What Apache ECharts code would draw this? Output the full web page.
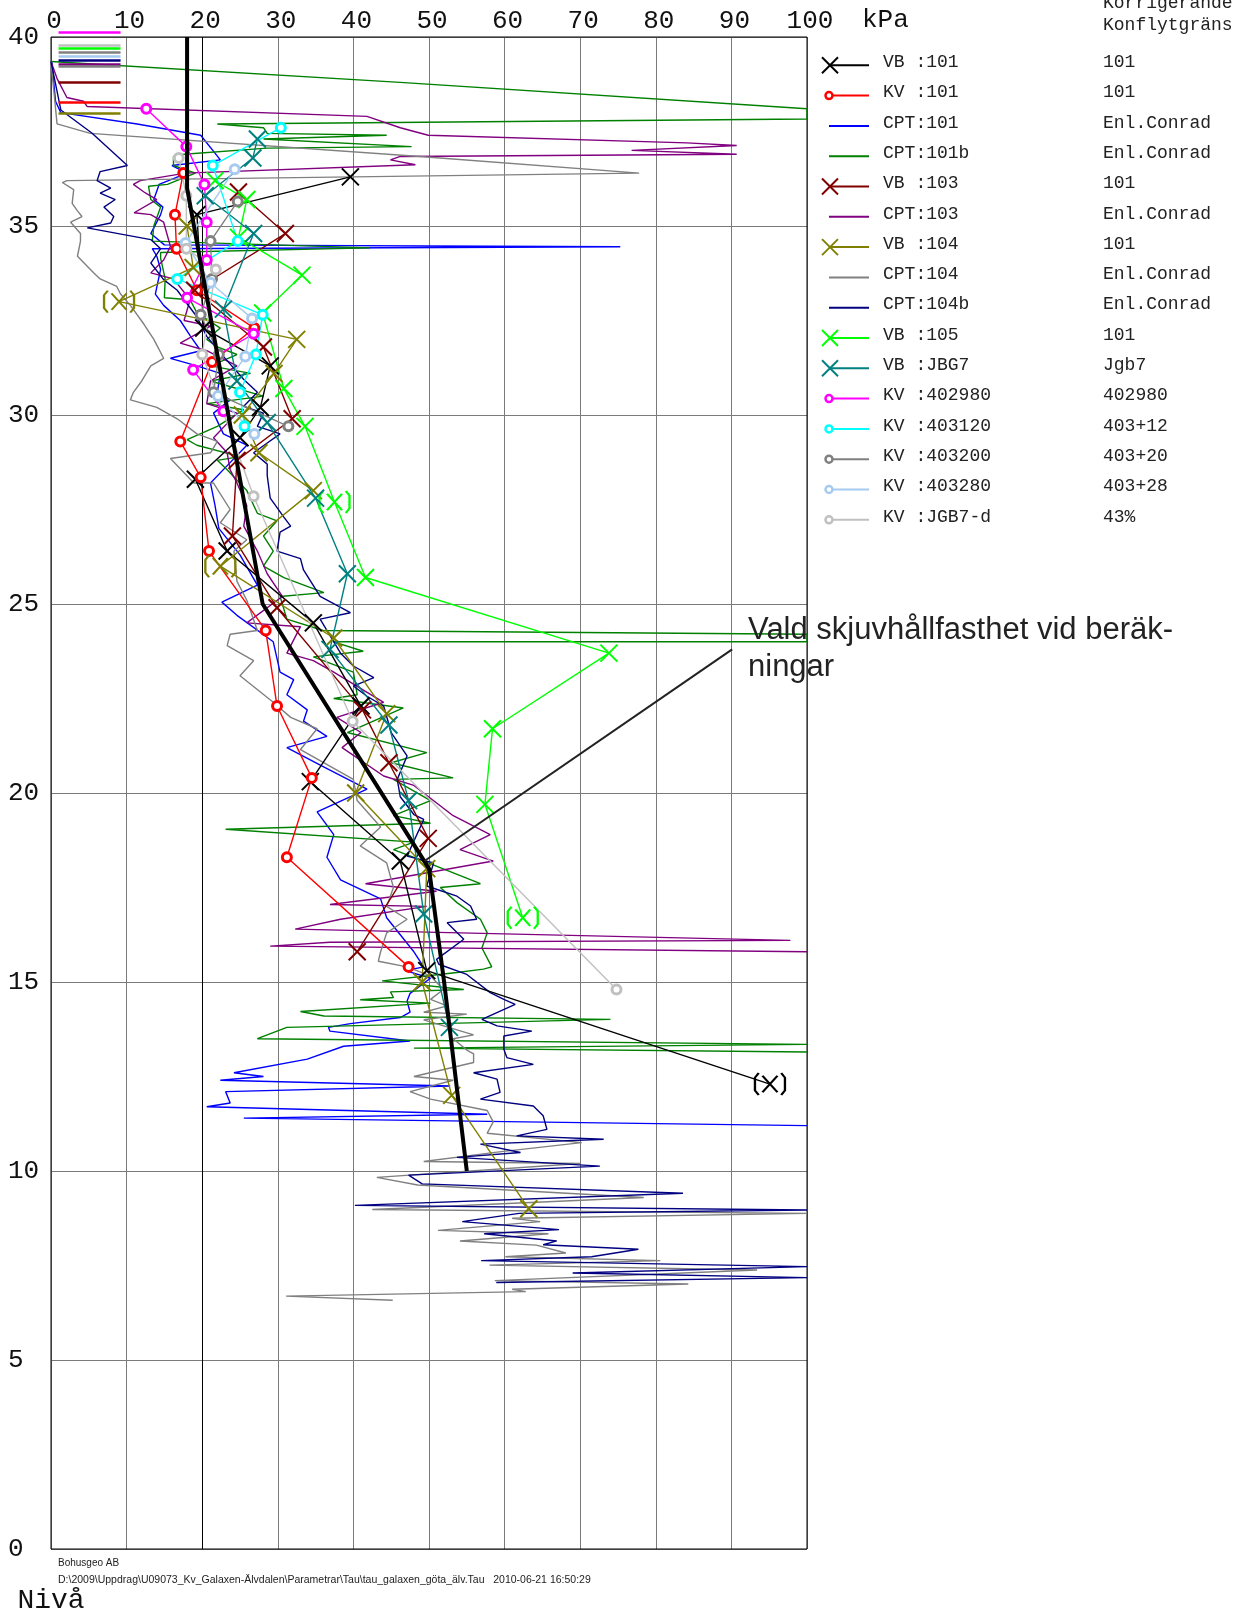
<!DOCTYPE html>
<html>
<head>
<meta charset="utf-8">
<script src="https://cdn.jsdelivr.net/npm/echarts@6/dist/echarts.min.js"></script>
<style>
html,body{margin:0;padding:0;background:#fff;}
#chart{width:1240px;height:1615px;}
</style>
</head>
<body>
<div id="chart"></div>
<script>
// ---------- axis ticks ----------
const xTicks = [0,10,20,30,40,50,60,70,80,90,100];
const yTicks = [0,5,10,15,20,25,30,35,40];
const xUnit = 'kPa';

// ---------- legend names / "Korrigerande Konflytgräns" ----------
const seriesNames = ['VB :101','KV :101','CPT:101','CPT:101b','VB :103','CPT:103','VB :104','CPT:104','CPT:104b','VB :105','VB :JBG7','KV :402980','KV :403120','KV :403200','KV :403280','KV :JGB7-d'];
const korrValues = ['101','101','Enl.Conrad','Enl.Conrad','101','Enl.Conrad','101','Enl.Conrad','Enl.Conrad','101','Jgb7','402980','403+12','403+20','403+28','43%'];

// ---------- data: [shear strength kPa, level m, (1 = value in brackets)] ----------
const vb101 = [[39.6,36.3],[19.3,35.3],[20.2,32.3],[29.0,31.3],[27.7,30.2],[25.0,29.4],[19.1,28.3],[23.3,26.4],[34.7,24.5],[41.0,22.3],[34.3,20.3],[46.2,18.2],[49.7,15.3],[95.1,12.3,1]];
const kv101 = [[17.5,36.4],[16.4,35.3],[16.6,34.4],[19.3,33.3],[26.9,32.3],[21.3,31.4],[17.1,29.3],[19.8,28.35],[20.9,26.4],[28.4,24.3],[29.9,22.3],[34.5,20.4],[31.2,18.3],[47.3,15.4]];
const cpt101 = [[0.1,39.35],[0.6,38.3],[1.3,38.0],[11.4,37.7],[19.8,37.4],[22.4,36.75],[16.0,36.6],[18.0,36.4],[14.3,36.1],[13.6,35.7],[14.8,35.5],[14.5,35.3],[13.2,34.8],[15.0,34.5],[75.3,34.45],[13.4,34.4],[14.0,34.2],[14.5,33.85],[13.8,33.2],[14.9,32.9],[17.1,32.5],[18.4,32.1],[19.8,31.7],[15.8,31.5],[19.3,31.3],[22.4,31.1],[22.0,30.6],[23.7,30.4],[21.5,30.05],[22.8,29.5],[25.9,29.2],[23.5,28.7],[21.1,28.2],[21.7,27.6],[22.2,27.0],[25.0,26.3],[27.3,25.5],[22.6,25.05],[24.6,24.7],[29.4,24.0],[30.3,23.2],[32.1,23.0],[31.2,22.6],[33.9,22.2],[33.4,21.9],[36.5,21.5],[31.2,21.2],[36.0,20.7],[41.8,20.1],[35.2,19.5],[37.4,18.9],[36.5,18.3],[38.3,17.7],[43.6,17.2],[44.4,16.7],[48.0,15.8],[49.3,15.4],[46.9,15.3],[50.2,15.1],[47.5,14.7],[47.1,14.5],[47.5,14.2],[46.2,14.06],[39.6,13.9],[36.7,13.8],[36.9,13.7],[47.5,13.44],[38.7,13.3],[33.9,12.96],[24.2,12.6],[28.1,12.5],[22.4,12.4],[52.8,12.25],[23.1,12.1],[23.7,11.8],[20.6,11.7],[57.7,11.5],[25.5,11.4],[100,11.2]];
const cpt101b = [[0,39.35],[46.2,38.8],[100,38.1],[100,37.83],[22.0,37.7],[28.1,37.6],[28.6,37.45],[44.4,37.4],[28.1,37.3],[47.7,37.1],[28.6,37.06],[17.6,36.9],[16.2,36.84],[16.2,36.6],[19.1,36.4],[15.4,36.1],[12.9,36.05],[13.2,35.7],[14.5,35.5],[13.6,35.0],[13.4,34.6],[42.2,34.42],[14.5,34.3],[14.5,34.15],[15.1,33.6],[15.0,33.1],[18.4,33.05],[19.3,32.7],[22.4,32.3],[20.6,32.0],[22.0,31.8],[24.6,31.6],[21.1,31.3],[26.4,31.1],[21.1,30.9],[28.1,30.5],[20.6,30.3],[25.5,30.14],[22.0,29.7],[18.0,29.35],[19.3,29.2],[25.0,28.9],[22.0,28.8],[23.3,28.55],[25.9,28.0],[27.3,27.4],[29.9,27.2],[28.1,26.8],[29.4,26.4],[28.1,26.0],[30.8,25.7],[36.1,25.3],[30.3,25.2],[31.2,24.6],[36.0,24.3],[100,24.2],[100,24.0],[37.4,24.0],[41.3,23.75],[34.7,23.6],[40.0,23.2],[40.5,22.6],[37.4,22.5],[46.6,22.25],[39.2,21.6],[49.7,21.07],[45.0,20.8],[53.2,20.4],[45.3,20.36],[50.2,19.8],[45.3,19.4],[50.2,19.2],[23.1,19.04],[48.0,18.7],[45.3,18.5],[49.3,18.2],[56.8,17.6],[51.5,17.5],[53.7,17.1],[56.8,16.66],[57.7,16.3],[57.0,15.9],[58.3,15.4],[57.2,15.34],[53.7,15.25],[43.8,15.03],[54.6,14.8],[44.9,14.74],[45.3,14.59],[40.9,14.53],[50.2,14.44],[33.0,14.22],[36.1,14.1],[74.0,14.01],[31.2,13.8],[27.3,13.5],[100,13.35],[100,13.3],[48.0,13.25],[100,13.15]];
const vb103 = [[24.8,35.9],[31.0,34.8],[19.0,33.3],[28.1,31.8],[31.9,29.9],[24.6,28.8],[24.0,26.8],[29.9,24.9],[41.2,22.2],[44.7,20.8],[49.9,18.8],[40.5,15.8]];
const cpt103 = [[0,39.35],[0.8,38.9],[2.1,38.4],[4.3,38.3],[4.8,38.16],[41.8,37.9],[46.2,37.6],[49.9,37.4],[84.1,37.2],[90.7,37.13],[76.8,37.0],[90.7,36.9],[46.2,36.84],[44.9,36.75],[48.2,36.62],[17.8,36.4],[11.8,36.2],[10.9,36.1],[12.3,35.9],[12.7,35.85],[14.0,35.7],[11.0,35.35],[13.2,35.3],[14.9,35.1],[15.8,34.46],[14.9,34.1],[13.2,33.76],[16.2,33.6],[18.4,33.05],[17.6,32.5],[21.1,32.35],[17.1,31.9],[20.6,31.7],[24.6,31.3],[21.1,30.9],[20.6,30.3],[24.6,30.05],[21.5,29.4],[23.3,29.0],[23.7,28.55],[24.6,28.2],[25.9,27.6],[25.5,27.06],[27.3,26.4],[28.6,25.8],[30.6,25.2],[25.9,24.5],[33.0,24.4],[31.2,23.7],[34.7,23.5],[37.4,23.2],[44.0,22.4],[37.8,22.0],[41.0,21.6],[38.5,21.2],[44.0,20.45],[48.0,20.2],[53.2,19.4],[58.1,18.9],[54.1,18.5],[58.5,18.2],[41.6,17.6],[51.0,17.4],[36.9,17.05],[49.7,17.0],[38.3,16.66],[32.3,16.4],[97.8,16.1],[36.9,16.05],[29.0,15.95],[100,15.8]];
const vb104 = [[18.0,35.0],[18.8,33.9],[9.0,33.0,1],[32.5,32.0],[29.5,31.1],[25.3,30.0],[27.5,29.0],[34.7,28.0],[22.4,26.0,1],[37.4,24.1],[44.4,22.1],[40.3,20.0],[49.7,18.0],[49.1,15.0],[53.0,12.0],[63.2,9.0]];
const cpt104 = [[0,39.35],[0.8,37.7],[5.2,37.45],[48.8,36.84],[77.8,36.4],[2.1,36.2],[1.5,36.15],[3.0,35.96],[2.8,35.6],[3.5,35.4],[4.1,35.25],[2.6,35.1],[3.9,34.8],[3.9,34.6],[3.5,34.2],[5.7,33.75],[6.5,33.6],[8.7,33.4],[9.2,33.2],[10.5,32.9],[12.3,32.4],[13.6,32.0],[14.9,31.5],[13.2,31.3],[12.0,30.9],[10.9,30.6],[10.5,30.4],[14.0,30.2],[16.7,29.9],[19.3,29.5],[22.0,29.3],[21.1,29.0],[15.8,28.85],[18.9,28.2],[21.5,28.2],[23.7,27.5],[22.4,27.15],[25.9,26.7],[24.2,26.4],[24.6,25.6],[25.9,25.1],[27.3,24.3],[23.7,24.2],[23.3,23.9],[26.8,23.5],[25.0,23.1],[29.4,22.4],[31.7,22.0],[35.2,21.7],[33.0,21.15],[40.0,20.36],[40.5,19.8],[43.6,19.1],[40.9,18.6],[44.4,18.15],[45.3,17.5],[44.4,17.0],[47.1,16.66],[44.4,16.3],[43.6,15.8],[43.3,15.55],[47.1,15.4],[50.2,15.16],[51.9,14.8],[50.2,14.54],[52.4,14.37],[49.3,14.2],[55.0,14.15],[49.3,14.0],[55.9,13.6],[53.2,13.5],[55.0,13.2],[55.9,13.1],[55.9,12.87],[48.0,12.5],[53.2,12.4],[47.5,12.1],[50.2,11.9],[57.7,11.6],[58.5,11.3],[57.7,11.0],[70.2,10.75],[59.0,10.5],[49.3,10.25],[70.0,10.2],[43.1,9.83],[48.5,9.63],[78.4,9.3],[42.5,8.98],[100,8.88],[61.0,8.75],[64.7,8.66],[51.2,8.43],[65.8,8.34],[54.1,8.15],[64.2,8.04],[68.1,7.83],[60.1,7.73],[80.6,7.63],[58.0,7.51],[93.4,7.38],[58.7,7.1],[84.3,7.01],[61.0,6.87],[62.8,6.81],[31.1,6.69],[45.2,6.58]];
const cpt104b = [[0,39.35],[1.3,38.07],[5.4,37.46],[10.1,36.6],[6.5,36.44],[6.1,36.2],[7.9,36.0],[6.5,35.87],[8.5,35.7],[7.0,35.5],[8.3,35.25],[7.9,35.08],[4.8,34.95],[13.2,34.64],[14.5,34.4],[13.2,34.02],[14.9,33.58],[16.7,33.3],[17.6,33.05],[19.3,32.6],[20.6,32.08],[22.8,31.55],[25.5,30.94],[27.3,30.6],[25.5,30.23],[28.1,30.05],[27.3,29.7],[30.3,29.5],[28.6,29.26],[26.8,29.0],[28.6,28.7],[28.6,28.4],[29.0,27.8],[30.8,27.3],[31.7,27.06],[30.3,26.9],[29.9,26.4],[33.0,26.2],[33.4,25.9],[35.6,25.2],[39.6,24.77],[35.6,24.6],[38.3,23.7],[40.0,23.36],[42.7,23.05],[40.0,22.83],[41.8,22.56],[44.0,22.3],[45.0,21.6],[47.1,20.98],[45.8,20.36],[46.2,19.9],[48.0,19.43],[49.3,19.3],[47.1,18.33],[50.6,18.15],[49.7,17.54],[53.7,17.27],[55.5,17.01],[56.3,16.66],[52.4,16.57],[54.6,16.13],[51.0,15.6],[51.3,15.47],[55.0,15.2],[58.1,14.72],[59.9,14.54],[61.4,14.41],[57.0,14.01],[59.0,13.84],[63.6,13.7],[59.9,13.57],[59.9,13.22],[60.3,13.0],[63.8,12.82],[55.9,12.6],[59.0,12.43],[59.4,12.08],[56.8,11.9],[63.8,11.72],[65.1,11.46],[65.6,11.1],[61.6,10.93],[73.1,10.84],[56.8,10.71],[62.1,10.49],[53.7,10.36],[72.6,10.13],[47.3,9.89],[49.1,9.66],[83.6,9.41],[40.2,9.09],[100,8.97],[61.9,8.88],[54.4,8.66],[67.2,8.45],[57.3,8.34],[66.9,8.15],[65.1,8.05],[77.7,7.93],[71.5,7.73],[56.9,7.63],[100,7.47],[69.0,7.3],[100,7.18],[58.9,7.05]];
const vb105 = [[21.7,36.2],[25.9,35.7],[24.8,34.7],[33.2,33.7],[28.0,32.7],[30.8,30.7],[33.6,29.7],[37.5,27.7,1],[41.6,25.7],[73.8,23.7],[58.4,21.7],[57.4,19.7],[62.4,16.7,1]];
const vbJbg7 = [[27.3,37.3],[26.7,36.8],[20.4,35.8],[26.8,34.8],[22.8,32.8],[24.6,30.9],[28.6,29.8],[35.0,27.8],[39.2,25.8],[36.9,23.8],[44.7,21.8],[47.3,19.8],[49.3,16.8],[52.7,13.8]];
const kv402980 = [[12.6,38.1],[17.9,37.1],[20.3,36.1],[20.6,35.1],[20.6,34.1],[18.0,33.1],[26.8,32.15],[18.8,31.2],[22.8,30.1]];
const kv403120 = [[30.4,37.6],[21.4,36.6],[24.7,34.6],[16.7,33.6],[28.0,32.65],[27.1,31.6],[25.0,30.6],[25.6,29.7]];
const kv403200 = [[24.7,35.65],[21.1,34.6],[21.3,33.6],[19.8,32.65],[22.2,31.6],[21.5,30.6],[31.4,29.7]];
const kv403280 = [[24.3,36.5],[17.8,34.55],[21.1,33.5],[26.6,32.55],[25.7,31.55],[22.1,30.5],[26.9,29.5]];
const kvJgb7d = [[16.9,36.8],[17.9,35.8],[17.9,34.4],[21.8,33.85],[20.0,31.6],[26.8,27.85],[39.9,21.9],[74.8,14.8]];

// chosen shear strength ("Vald skjuvhållfasthet")
const valdLine = [[18,40],[18,36],[28,25],[50,18],[52,15],[55,10]];
// ground level markers per sounding: [series, level]
const levelMarks = [['KV :402980',40.13],['KV :JGB7-d',39.79],['VB :105',39.69],['KV :403200',39.60],['KV :403280',39.50],['CPT:104b',39.39],['CPT:103',39.29],['CPT:104',39.22],['VB :103',38.80],['KV :101',38.28],['VB :104',37.99]];
const levelMarkRange = [1, 9.2];
// leader from annotation to the chosen line
const leader = [[49.4,18.2],[90.1,23.8]];
const annotationText = ['Vald skjuvhållfasthet vid beräk-','ningar'];

// ---------- styles ----------
const colors = {
  'VB :101':'#000000','KV :101':'#ff0000','CPT:101':'#0000ff','CPT:101b':'#008000',
  'VB :103':'#800000','CPT:103':'#800080','VB :104':'#808000','CPT:104':'#808080',
  'CPT:104b':'#000080','VB :105':'#00ff00','VB :JBG7':'#008080','KV :402980':'#ff00ff',
  'KV :403120':'#00ffff','KV :403200':'#808080','KV :403280':'#a6caf0','KV :JGB7-d':'#c0c0c0'
};
const dataByName = {
  'VB :101':vb101,'KV :101':kv101,'CPT:101':cpt101,'CPT:101b':cpt101b,'VB :103':vb103,'CPT:103':cpt103,
  'VB :104':vb104,'CPT:104':cpt104,'CPT:104b':cpt104b,'VB :105':vb105,'VB :JBG7':vbJbg7,
  'KV :402980':kv402980,'KV :403120':kv403120,'KV :403200':kv403200,'KV :403280':kv403280,'KV :JGB7-d':kvJgb7d
};
const XSYM = 'path://M0,0L20,20M20,0L0,20';
const PSYM = 'path://M6,0L2,5L2,19L6,24M30,0L34,5L34,19L30,24M10,3L26,21M26,3L10,21';
const MONO = 'Liberation Mono';

function kind(n){ return n.slice(0,2); }

const series = [];
seriesNames.forEach(function(n){
  if (kind(n) !== 'CP') return;
  series.push({
    name:n, type:'line', data:dataByName[n], symbol:'none', z:2,
    lineStyle:{color:colors[n], width:1.4}, itemStyle:{color:colors[n]},
    silent:true, clip:true
  });
});
series.push({
  name:'Vald skjuvhållfasthet', type:'line', data:valdLine, symbol:'none', z:5,
  lineStyle:{color:'#000', width:4}, silent:true
});
seriesNames.forEach(function(n){
  const k = kind(n);
  if (k === 'CP') return;
  const c = colors[n];
  let data, common;
  if (k === 'VB') {
    data = dataByName[n].map(function(p){
      return p[2] ? {value:[p[0],p[1]], symbol:PSYM, symbolSize:[30,22]} : {value:[p[0],p[1]]};
    });
    common = {symbol:XSYM, symbolSize:17, itemStyle:{color:'rgba(0,0,0,0)', borderColor:c, borderWidth:2}};
  } else {
    data = dataByName[n].map(function(p){ return [p[0],p[1]]; });
    common = {symbol:'circle', symbolSize:9, itemStyle:{color:'#ffffff', borderColor:c, borderWidth:3}};
  }
  series.push(Object.assign({
    name:n, type:'line', data:data, z:4, showSymbol:true, showAllSymbol:true,
    lineStyle:{color:c, width:1.4}, silent:true, clip:false
  }, common));
});
series.push({
  type:'lines', coordinateSystem:'cartesian2d', z:3, silent:true, clip:false,
  data: levelMarks.map(function(m){
    return {coords:[[levelMarkRange[0],m[1]],[levelMarkRange[1],m[1]]], lineStyle:{color:colors[m[0]], width:2.5, opacity:1}};
  })
});
series.push({
  type:'lines', coordinateSystem:'cartesian2d', z:6, silent:true, clip:false,
  data:[{coords:leader, lineStyle:{color:'#222', width:2, opacity:1}}]
});

// ---------- legend drawn as graphics ----------
const graphics = [];
const rowTop = 62.8, rowStep = 30.3;
const LFONT = '18px "'+MONO+'"';
graphics.push({type:'text', left:1103, top:-6, style:{text:'Korrigerande', font:LFONT, fill:'#222'}});
graphics.push({type:'text', left:1103, top:16, style:{text:'Konflytgräns', font:LFONT, fill:'#222'}});
seriesNames.forEach(function(n,i){
  const c = colors[n], ty = rowTop + i*rowStep, ly = ty + 2.5, k = kind(n);
  graphics.push({type:'line', shape:{x1:k==='CP'?829:830, y1:ly, x2:869, y2:ly}, style:{stroke:c, lineWidth:2}});
  if (k === 'VB') {
    graphics.push({type:'line', shape:{x1:822, y1:ly-8, x2:838, y2:ly+8}, style:{stroke:c, lineWidth:2}});
    graphics.push({type:'line', shape:{x1:838, y1:ly-8, x2:822, y2:ly+8}, style:{stroke:c, lineWidth:2}});
  } else if (k === 'KV') {
    graphics.push({type:'circle', shape:{cx:829, cy:ly, r:3.5}, style:{fill:'#fff', stroke:c, lineWidth:2.5}});
  }
  graphics.push({type:'text', left:883, top:ty-9.5, style:{text:n, font:LFONT, fill:'#222'}});
  graphics.push({type:'text', left:1103, top:ty-9.5, style:{text:korrValues[i], font:LFONT, fill:'#222'}});
});
// unit after the last tick label
graphics.push({type:'text', left:862, top:7, style:{text:xUnit, font:'26px "'+MONO+'"', fill:'#111'}});
// annotation text
graphics.push({type:'text', left:748, top:615, z:10, style:{text:annotationText[0], font:'31px "Liberation Sans"', fill:'#222'}});
graphics.push({type:'text', left:748, top:652, z:10, style:{text:annotationText[1], font:'31px "Liberation Sans"', fill:'#222'}});
// footer
graphics.push({type:'text', left:58, top:1558, style:{text:'Bohusgeo AB', font:'10px "Liberation Sans"', fill:'#222'}});
graphics.push({type:'text', left:58, top:1575, style:{text:'D:\\2009\\Uppdrag\\U09073_Kv_Galaxen-Älvdalen\\Parametrar\\Tau\\tau_galaxen_göta_älv.Tau   2010-06-21 16:50:29', font:'10.5px "Liberation Sans"', fill:'#222'}});

const gridColorsX = xTicks.map(function(v){ return v === 20 ? '#000000' : '#7a7a7a'; });

const chart = echarts.init(document.getElementById('chart'), null, {renderer:'canvas'});
chart.setOption({
  animation:false,
  backgroundColor:'#ffffff',
  grid:{left:51, right:433, top:37, bottom:65, show:true, borderColor:'#000', borderWidth:1, backgroundColor:'transparent', z:1},
  xAxis:{
    type:'value', position:'top', min:xTicks[0], max:xTicks[xTicks.length-1], interval:xTicks[1]-xTicks[0],
    axisLine:{show:false}, axisTick:{show:false},
    splitLine:{show:true, lineStyle:{color:gridColorsX, width:1}},
    axisLabel:{fontFamily:MONO, fontSize:26, color:'#111', margin:16, verticalAlign:'middle', padding:[0,0,0,6]}
  },
  yAxis:{
    type:'value', min:yTicks[0], max:yTicks[yTicks.length-1], interval:yTicks[1]-yTicks[0],
    axisLine:{show:false}, axisTick:{show:false},
    splitLine:{show:true, lineStyle:{color:'#7a7a7a', width:1}},
    axisLabel:{fontFamily:MONO, fontSize:26, color:'#111', margin:43, align:'left'},
    name:'Nivå', nameLocation:'start', nameGap:52,
    nameTextStyle:{fontFamily:MONO, fontSize:28, color:'#111', align:'center', verticalAlign:'middle'}
  },
  graphic:graphics,
  series:series
});
</script>
</body>
</html>
